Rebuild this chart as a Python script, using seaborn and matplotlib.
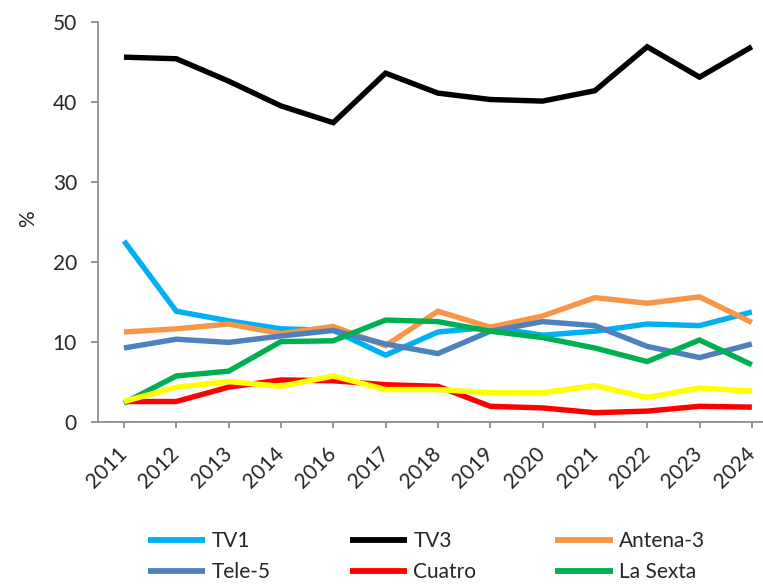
import numpy as np
import pandas as pd
import matplotlib
matplotlib.use("Agg")
import matplotlib.pyplot as plt
import seaborn as sns
from matplotlib.lines import Line2D

years = ["2011", "2012", "2013", "2014", "2016", "2017", "2018",
         "2019", "2020", "2021", "2022", "2023", "2024"]

tv1      = [22.6, 13.8, 12.6, 11.6, 11.4, 8.3, 11.2, 11.8, 10.8, 11.3, 12.2, 12.0, 13.7]
tv3      = [45.6, 45.4, 42.6, 39.5, 37.4, 43.6, 41.1, 40.3, 40.1, 41.4, 46.9, 43.1, 46.9]
antena3  = [11.2, 11.6, 12.2, 11.0, 11.9, 9.5, 13.8, 11.8, 13.2, 15.5, 14.8, 15.6, 12.4]
tele5    = [9.2, 10.3, 9.9, 10.7, 11.4, 9.7, 8.5, 11.3, 12.5, 12.0, 9.4, 8.0, 9.7]
cuatro   = [2.5, 2.5, 4.3, 5.2, 5.1, 4.6, 4.4, 1.9, 1.7, 1.1, 1.3, 1.9, 1.8]
lasexta  = [2.3, 5.7, 6.3, 10.0, 10.1, 12.7, 12.5, 11.3, 10.5, 9.2, 7.5, 10.2, 7.1]
altres   = [2.5, 4.3, 5.0, 4.4, 5.7, 4.0, 4.0, 3.6, 3.6, 4.5, 3.0, 4.2, 3.8]

series_names = ["TV1", "TV3", "Antena-3", "Tele-5", "Cuatro", "La Sexta", "Altres"]
series_vals = [tv1, tv3, antena3, tele5, cuatro, lasexta, altres]
colors = ["#00B0F0", "#000000", "#F79646", "#4F81BD", "#FF0000", "#00B050", "#FFFF00"]
palette = dict(zip(series_names, colors))

rows = []
for name, vals in zip(series_names, series_vals):
    for y, v in zip(years, vals):
        rows.append({"year": y, "value": v, "channel": name})
df = pd.DataFrame(rows)

sns.set_style("white")
plt.rcParams["font.family"] = ["Lato", "DejaVu Sans"]

FS = 15

W, H = 763, 586
fig = plt.figure(figsize=(W / 100, H / 100), dpi=100)
left_px, right_px = 97.8, 778.0
bottom_px, top_px = 421.5, 22.0
ax = fig.add_axes([left_px / W, (H - bottom_px) / H,
                   (right_px - left_px) / W, (bottom_px - top_px) / H])

sns.lineplot(data=df, x="year", y="value", hue="channel",
             hue_order=series_names, palette=palette, sort=False,
             linewidth=3.9, legend=False, ax=ax,
             solid_capstyle="butt", solid_joinstyle="miter")

ax.set_xlim(-0.5, len(years) - 0.5)
ax.set_ylim(0, 50)
ax.set_yticks([0, 10, 20, 30, 40, 50])
ax.set_xticks(range(len(years)))
ax.set_xticklabels(years, rotation=45, ha="right", va="center",
                   rotation_mode="anchor")
ax.set_xlabel("")
ax.set_ylabel("%", fontsize=FS)
ax.yaxis.set_label_coords(-0.087, 0.508)

gray = "#8C8C8C"
for s in ["top", "right"]:
    ax.spines[s].set_visible(False)
for s in ["left", "bottom"]:
    ax.spines[s].set_color(gray)
    ax.spines[s].set_linewidth(1.3)
ax.tick_params(axis="y", direction="out", length=5, width=1.3, color=gray,
               labelsize=FS, pad=10, left=True)
ax.tick_params(axis="x", direction="out", length=4, width=1.3, color=gray,
               labelsize=FS, pad=17, bottom=True)
ax.grid(False)

legend_order = ["TV1", "Tele-5", "TV3", "Cuatro", "Antena-3", "La Sexta"]
handles = [Line2D([0], [0], color=palette[n], lw=4.2, solid_capstyle="butt")
           for n in legend_order]
fig.legend(handles, legend_order, ncol=3, loc="upper left",
           bbox_to_anchor=(148 / W, (H - 531) / H),
           frameon=False, fontsize=FS, handlelength=2.75,
           handletextpad=0.3, columnspacing=3.8, labelspacing=0.55,
           borderpad=0, borderaxespad=0)

fig.savefig("out.png", dpi=100)
